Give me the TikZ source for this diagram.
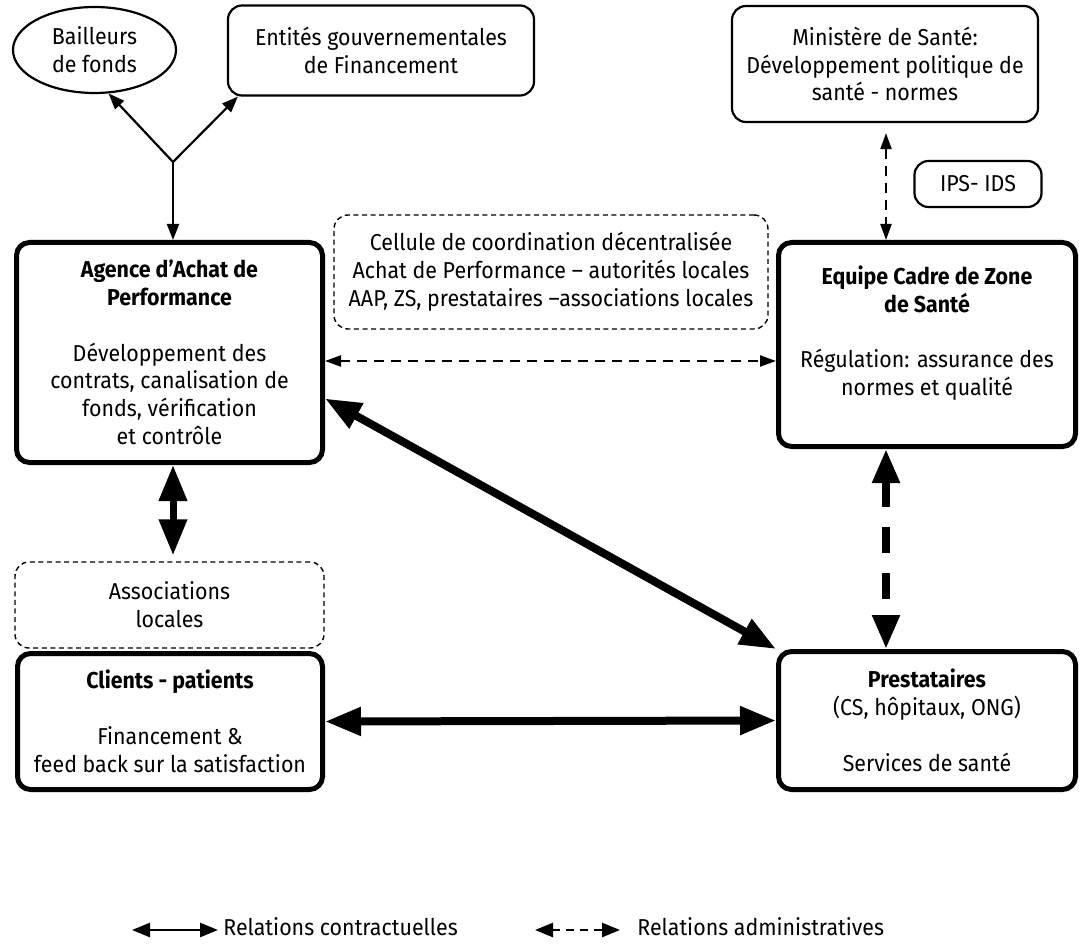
\documentclass[tikz,border=0pt]{standalone}
\usepackage{fontspec}
\setmainfont{Fira Sans}[FakeStretch=0.93]
\usetikzlibrary{arrows.meta,shapes.geometric,calc}
\begin{document}
\begin{tikzpicture}[x=0.5pt,y=-0.5pt,
  every node/.style={font=\fontsize{11.5}{13.9}\selectfont, align=center, inner sep=0pt},
  thinbox/.style={draw, line width=1.1pt, rounded corners=7pt},
  thickbox/.style={draw, line width=2.5pt, rounded corners=6.5pt},
  dashbox/.style={draw, line width=0.7pt, dash pattern=on 2.5pt off 1.8pt, rounded corners=7pt},
  thinarrow/.style={line width=1.1pt, -{Triangle[length=8pt,width=6pt]}},
  admarrow/.style={line width=1.1pt, dash pattern=on 5pt off 3.5pt,
    {Triangle[length=8pt,width=5.5pt]}-{Triangle[length=8pt,width=5.5pt]}},
  thickarrow/.style={line width=4pt,
    {Triangle[length=18pt,width=13.5pt]}-{Triangle[length=18pt,width=13.5pt]}},
  vthickarrow/.style={line width=3.5pt,
    {Triangle[length=18pt,width=13.5pt]}-{Triangle[length=18pt,width=13.5pt]}},
  thickdash/.style={line width=4pt, dash pattern=on 13pt off 10pt,
    {Triangle[length=17pt,width=13pt]}-{Triangle[length=17pt,width=13pt]}},
  legcontract/.style={line width=1.3pt,
    {Triangle[length=9pt,width=7pt]}-{Triangle[length=9pt,width=7pt]}},
  legadmin/.style={line width=1.3pt, dash pattern=on 4pt off 3pt,
    {Triangle[length=9pt,width=7pt]}-{Triangle[length=9pt,width=7pt]}},
]
\useasboundingbox (0,0) rectangle (1080,946);

% funding sources and ministry
\node[draw, ellipse, line width=1.1pt, minimum width=81.5pt, minimum height=43pt]
  (bail) at (94.5,50) {Bailleurs\\de fonds};
\node[thinbox, minimum width=153pt, minimum height=45pt]
  (ent) at (381,50.5) {Entités gouvernementales\\de Financement};
\node[thinbox, minimum width=153pt, minimum height=58pt]
  (min) at (885,64) {Ministère de Santé:\\Développement politique de\\santé - normes};
\node[thinbox, minimum width=63.5pt, minimum height=23pt]
  (ips) at (978,184) {IPS- IDS};

% coordination cell
\node[dashbox, minimum width=217pt, minimum height=57pt]
  (cell) at (551,272) {Cellule de coordination décentralisée\\Achat de Performance – autorités locales\\AAP, ZS, prestataires –associations locales};

% main actors
\node[thickbox, minimum width=153pt, minimum height=110pt]
  (aap) at (169.5,352.5) {{\bfseries Agence d’Achat de}\\{\bfseries Performance}\\[13.9pt]Développement des\\contrats, canalisation de\\fonds, vérification\\et contrôle};
\node[thickbox, minimum width=148.5pt, minimum height=102pt]
  (ecz) at (927,344.5) {{\bfseries Equipe Cadre de Zone}\\{\bfseries de Santé}\\[13.9pt]Régulation: assurance des\\normes et qualité\\\mbox{}};
\node[dashbox, minimum width=154.5pt, minimum height=43pt]
  (asso) at (169.5,605) {Associations\\locales};
\node[thickbox, minimum width=152.5pt, minimum height=68pt]
  (cli) at (170,721.5) {{\bfseries Clients - patients}\\[13.9pt]Financement \&\\feed back sur la satisfaction};
\node[thickbox, minimum width=148.5pt, minimum height=69pt]
  (pre) at (927,720.5) {{\bfseries Prestataires}\\(CS, hôpitaux, ONG)\\[13.9pt]Services de santé};

% helper points
\coordinate (J) at (173,162);
\coordinate (mtop) at ($(min.south)+(1,10)$);
\coordinate (a1) at ($(aap.east)+(0,8.5)$);
\coordinate (a2) at ($(aap.east)+(0,46)$);

% funding flows
\draw[thinarrow] (J) -- (J |- aap.north);
\draw[thinarrow] (J) -- (bail.-72);
\draw[thinarrow] (J) -- ([xshift=5.5pt]ent.south west);

% administrative relations
\draw[admarrow] (mtop) -- (mtop |- ecz.north);
\draw[admarrow] (a1) -- (a1 -| ecz.west);
\draw[thickdash] (mtop |- ecz.south) -- (mtop |- pre.north);

% contractual relations
\draw[thickarrow] (a2) -- (pre.north west);
\draw[vthickarrow, shorten >=3pt] (J |- aap.south) -- (J |- asso.north);
\draw[thickarrow] (cli.east) -- (pre.west);

% legend
\coordinate (lc1) at (132,930);
\coordinate (lc2) at (218,930);
\coordinate (la1) at (535,930);
\coordinate (la2) at (620,930);
\draw[legcontract] (lc1) -- (lc2);
\draw[legadmin] (la1) -- (la2);
\node[anchor=west] (lct) at (223,927) {Relations contractuelles};
\node[anchor=west] (lat) at (637,927) {Relations administratives};
\end{tikzpicture}
\end{document}
